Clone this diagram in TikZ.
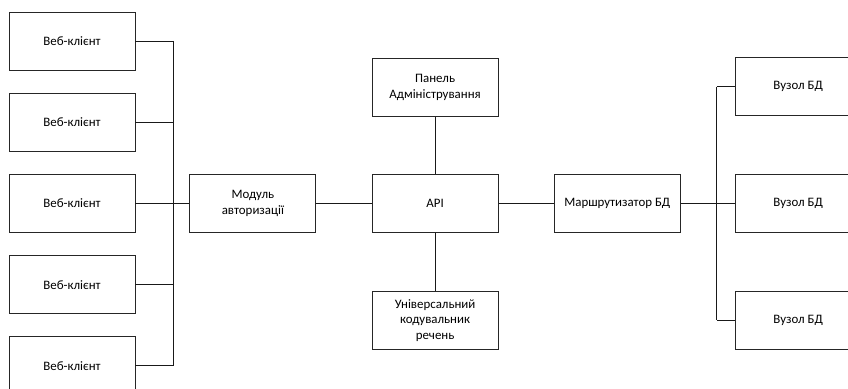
\documentclass[tikz,border=0pt]{standalone}
\usepackage{fontspec}
\setmainfont{Carlito}
\usepackage{tikz}
\usetikzlibrary{positioning, calc}
\tikzset{
  clientbox/.style={rectangle, draw=black!85, line width=0.75pt, fill=white, minimum width=3.78cm, minimum height=1.74cm, font=\fontsize{11}{13.4}\selectfont, align=center, inner sep=1pt},
  servicebox/.style={clientbox},
  link/.style={draw=black!90, line width=0.7pt}
}

\begin{document}
\begin{tikzpicture}
  \clip (0,0) rectangle (25.44,-11.67);

  % web clients
  \node[clientbox] (web1) at (2.16,-1.23) {Веб-клієнт};
  \node[clientbox, below=0.67cm of web1] (web2) {Веб-клієнт};
  \node[clientbox, below=0.67cm of web2] (web3) {Веб-клієнт};
  \node[clientbox, below=0.67cm of web3] (web4) {Веб-клієнт};
  \node[clientbox, below=0.67cm of web4] (web5) {Веб-клієнт};

  % main chain
  \node[servicebox, right=1.62cm of web3] (auth) {Модуль\\авторизації};
  \node[servicebox, right=1.66cm of auth] (api) {API};
  \node[servicebox, above=1.71cm of api] (admin) {Панель\\Адміністрування};
  \node[servicebox, below=1.74cm of api] (encoder) {Універсальний\\кодувальник\\речень};
  \node[servicebox, right=1.66cm of api] (router) {Маршрутизатор БД};

  % database nodes
  \node[servicebox, right=1.62cm of router] (db2) {Вузол БД};
  \node[servicebox, above=1.74cm of db2] (db1) {Вузол БД};
  \node[servicebox, below=1.74cm of db2] (db3) {Вузол БД};

  \coordinate (lbus) at ([xshift=1.14cm]web3.east);
  \coordinate (rbus) at ([xshift=1.08cm]router.east);

  \foreach \i in {1,...,5}
    \draw[link] (web\i.east) -- (web\i.east -| lbus);
  \draw[link] (web1.east -| lbus) -- (web5.east -| lbus);
  \draw[link] (web3.east) -- (auth.west);

  \draw[link] (auth) -- (api);
  \draw[link] (admin) -- (api);
  \draw[link] (api) -- (encoder);
  \draw[link] (api) -- (router);

  \draw[link] (router.east) -- (db2.west);
  \draw[link] (db1.west -| rbus) -- (db3.west -| rbus);
  \draw[link] (db1.west -| rbus) -- (db1.west);
  \draw[link] (db3.west -| rbus) -- (db3.west);
\end{tikzpicture}
\end{document}
